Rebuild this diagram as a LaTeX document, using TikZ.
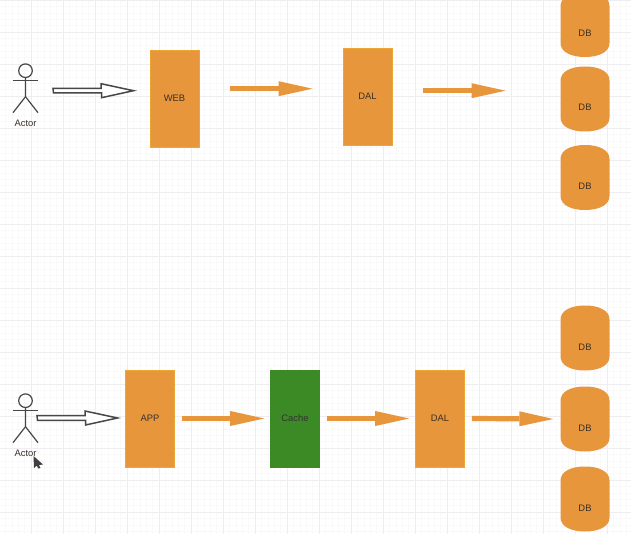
\documentclass[tikz,border=0pt]{standalone}
\usepackage{fontspec}
\setmainfont{Liberation Sans}
\usetikzlibrary{arrows.meta,calc}
\definecolor{boxorange}{HTML}{E8963C}
\definecolor{boxgreen}{HTML}{3B8A26}
\definecolor{gridminor}{HTML}{FAF9FA}
\definecolor{gridmajor}{HTML}{F0EDF2}
\definecolor{inktext}{HTML}{3A3028}
\newcommand{\hollowarrow}[2]{\draw[hollowbody] (#1) ++(0,-2.3) -- ++(48,0) -- ++(0,-4.7) -- (#2) -- ++(-32,7) -- ++(0,-4.7) -- ++(-48,0) -- cycle;}
\tikzset{
  boxnode/.style={minimum width=49pt,minimum height=97pt,inner sep=0pt,fill=boxorange,draw=boxorange!85!yellow,line width=.6pt,text=inktext,font=\fontsize{9.4}{10}\selectfont},
  greennode/.style={boxnode,fill=boxgreen,draw=boxgreen,text=black!80},
  dbnode/.style={minimum width=49pt,minimum height=65pt,inner sep=0pt,text=inktext,font=\fontsize{9.4}{10}\selectfont,text height=24pt,text depth=0pt,
    path picture={\fill[boxorange] (path picture bounding box.north west) ++(0,-14pt)
      .. controls +(0,9pt) and +(-14pt,0) .. ++(24.5pt,14pt)
      .. controls +(14pt,0) and +(0,9pt) .. ++(24.5pt,-14pt)
      -- ++(0,-37pt)
      .. controls +(0,-9pt) and +(14pt,0) .. ++(-24.5pt,-14pt)
      .. controls +(-14pt,0) and +(0,-9pt) .. ++(-24.5pt,14pt) -- cycle;}},
  actorlabel/.style={inner sep=0pt,text=inktext,font=\fontsize{9.4}{10}\selectfont},
  flow/.style={draw=boxorange,line width=5.2pt,-{Triangle[length=34pt,width=15pt,line width=0pt,fill=boxorange]}},
  hollowbody/.style={draw=black!72,fill=white,line width=1.5pt,line join=miter},
  stick/.style={draw=black!72,line width=1.2pt},
}
\begin{document}
\begin{tikzpicture}[x=1pt,y=-1pt]
\useasboundingbox (0,0) rectangle (631,534);
\fill[white] (0,0) rectangle (631,534);
\clip (0,0) rectangle (631,534);
\foreach \k in {0,...,100} {
  \draw[gridminor,line width=.4pt] (0,\k*6.4) -- (631,\k*6.4);
  \draw[gridminor,line width=.4pt] ({\k*6.4-1},0) -- ({\k*6.4-1},534);
}
\foreach \k in {0,...,20} {
  \draw[gridmajor,line width=.6pt] (0,\k*32) -- (631,\k*32);
  \draw[gridmajor,line width=.6pt] ({\k*32-1},0) -- ({\k*32-1},534);
}

% top row
\node[boxnode] (web) at (174.5,98.5) {WEB};
\node[boxnode] (dal1) at (367.5,96.5) {DAL};
\node[dbnode] (db1) at (585,24.5) {DB};
\node[dbnode] (db2) at (585,99) {DB};
\node[dbnode] (db3) at (585,177.5) {DB};
% bottom row
\node[boxnode] (app) at (150,418.5) {APP};
\node[greennode] (cache) at (295,418.5) {Cache};
\node[boxnode] (dal2) at (440,418.5) {DAL};
\node[dbnode] (db4) at (585,338) {DB};
\node[dbnode] (db5) at (585,419) {DB};
\node[dbnode] (db6) at (585,499) {DB};

% actors
\coordinate (actorA) at (25.5,70.7);
\coordinate (actorB) at (25.5,400.7);
\foreach \c in {actorA,actorB} {
  \draw[stick] (\c) circle (6.8pt);
  \draw[stick] ($(\c)+(0,7)$) -- ++(0,19) -- ++(-12.5,16);
  \draw[stick] ($(\c)+(0,26)$) -- ++(12.5,16);
  \draw[stick] ($(\c)+(-12.5,10)$) -- ++(25,0);
}
\node[actorlabel] (lblA) at (25.5,123) {Actor};
\node[actorlabel] (lblB) at (25.5,453) {Actor};
\fill[black!75] (33.5,456) -- (43,464.5) -- (39,465) -- (40.5,468) -- (38.5,468.5) -- (36.5,465.5) -- (34,468) -- cycle;

% connectors
\coordinate (h1s) at (53,90.7); \coordinate (h1e) at (133.5,90.7);
\coordinate (h2s) at (37,418); \coordinate (h2e) at (117.5,418);
\hollowarrow{h1s}{h1e}
\hollowarrow{h2s}{h2e}
\coordinate (f1s) at (230,88.7); \coordinate (f1e) at (312.5,88.7);
\coordinate (f2s) at (423,90.7); \coordinate (f2e) at (505.5,90.7);
\draw[flow] (f1s) -- (f1e);
\draw[flow] (f2s) -- (f2e);
\coordinate (f3s) at ($(app.east)+(7,0)$);
\coordinate (f3e) at ($(cache.west)+(-6,0)$);
\coordinate (f4s) at ($(cache.east)+(7,0)$);
\coordinate (f4e) at ($(dal2.west)+(-6,0)$);
\coordinate (f5s) at ($(dal2.east)+(7,0)$);
\coordinate (f5e) at ($(db5.west)+(-7,0)$);
\draw[flow] (f3s) -- (f3e);
\draw[flow] (f4s) -- (f4e);
\draw[flow] (f5s) -- (f5e);
\end{tikzpicture}
\end{document}
